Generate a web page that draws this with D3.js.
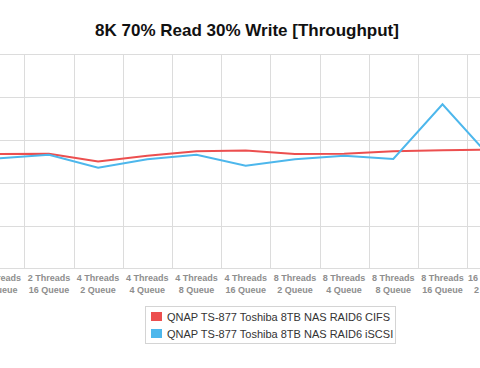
<!DOCTYPE html>
<html>
<head>
<meta charset="utf-8">
<script src="https://cdn.jsdelivr.net/npm/d3@7/dist/d3.min.js"></script>
<style>
  html, body { margin: 0; padding: 0; background: #fff; overflow: hidden; }
  svg { display: block; font-family: "Liberation Sans", Arial, Helvetica, sans-serif; }
</style>
</head>
<body>
<svg id="chart" width="480" height="368"></svg>
<script>
const title = "8K 70% Read 30% Write [Throughput]";
const threads = ["2 Threads", "2 Threads", "4 Threads", "4 Threads", "4 Threads", "4 Threads",
                 "8 Threads", "8 Threads", "8 Threads", "8 Threads", "16 Threads"];
const queues  = ["8 Queue", "16 Queue", "2 Queue", "4 Queue", "8 Queue", "16 Queue",
                 "2 Queue", "4 Queue", "8 Queue", "16 Queue", "2 Queue"];
const categories = threads.map((t, i) => t + " " + queues[i]);
const seriesNames = ["QNAP TS-877 Toshiba 8TB NAS RAID6 CIFS", "QNAP TS-877 Toshiba 8TB NAS RAID6 iSCSI"];
const cifs  = [133.5, 133.9, 124.8, 131.5, 136.8, 137.6, 133.5, 133.9, 136.7, 137.9, 138.8];
const iscsi = [128.5, 132.7, 117.4, 127.3, 132.6, 119.7, 127.3, 131.5, 127.7, 191.6, 128.2];
const yTicks = [0, 50, 100, 150, 200, 250];
const colors = ["#ec4f4f", "#4db7ec"];

const svg = d3.select("#chart");
const step = 49.2;
const x0 = -24.9;
const x = d3.scaleBand().domain(categories).range([x0, x0 + step * categories.length]).padding(0);
const y = d3.scaleLinear().domain([0, 250]).range([268.3, 54.3]);

// Title
svg.append("text")
  .attr("x", 247).attr("y", 36)
  .attr("text-anchor", "middle")
  .attr("font-size", 17).attr("font-weight", "bold").attr("fill", "#111")
  .text(title);

// Horizontal gridlines
svg.append("g").selectAll("line").data(yTicks).join("line")
  .attr("x1", x0).attr("x2", x0 + step * categories.length)
  .attr("y1", d => Math.round(y(d)) + 0.5).attr("y2", d => Math.round(y(d)) + 0.5)
  .attr("stroke", "#dcdcdc").attr("stroke-width", 1);

// Vertical gridlines at band boundaries
const bounds = categories.map(c => x(c)).concat([x0 + step * categories.length]);
svg.append("g").selectAll("line").data(bounds).join("line")
  .attr("x1", d => Math.round(d) + 0.5).attr("x2", d => Math.round(d) + 0.5)
  .attr("y1", y(250)).attr("y2", y(0))
  .attr("stroke", "#dcdcdc").attr("stroke-width", 1);

// X labels
const xl = svg.append("g").selectAll("text").data(categories).join("text")
  .attr("text-anchor", "middle").attr("font-size", 9).attr("font-weight", "bold").attr("fill", "#8e8e8e")
  .attr("transform", d => `translate(${x(d) + x.bandwidth() / 2},281)`);
xl.append("tspan").attr("x", 0).attr("dy", 0).text((d, i) => threads[i]);
xl.append("tspan").attr("x", 0).attr("dy", 12).text((d, i) => queues[i]);

// Lines
const line = d3.line()
  .x((d, i) => x(categories[i]) + x.bandwidth() / 2)
  .y(d => y(d));
[cifs, iscsi].forEach((s, k) => {
  svg.append("path").datum(s)
    .attr("d", line).attr("fill", "none")
    .attr("stroke", colors[k]).attr("stroke-width", 2)
    .attr("stroke-linejoin", "miter");
});

// Legend
const lg = svg.append("g");
lg.append("rect").attr("x", 145.5).attr("y", 306.5).attr("width", 250).attr("height", 37)
  .attr("fill", "#fff").attr("stroke", "#d4d4d4");
seriesNames.forEach((n, k) => {
  lg.append("rect").attr("x", 151).attr("y", 312 + k * 17).attr("width", 11).attr("height", 9)
    .attr("fill", colors[k]);
  lg.append("text").attr("x", 167).attr("y", 320.5 + k * 17)
    .attr("font-size", 11).attr("fill", "#333").text(n);
});
</script>
</body>
</html>
